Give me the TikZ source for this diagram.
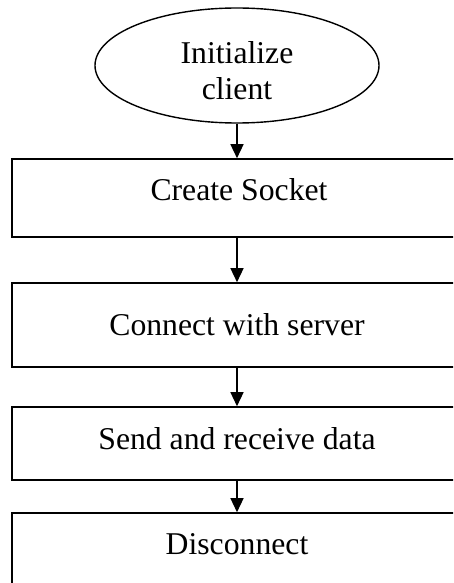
\documentclass[tikz,border=0pt]{standalone}
\usepackage{fontspec}
\setmainfont{Liberation Serif}
\usetikzlibrary{shapes.geometric,arrows.meta}
\begin{document}
\begin{tikzpicture}[x=1pt,y=-1pt,
  box/.style={draw=black,line width=1.6pt,rectangle,inner sep=0pt,minimum width=468pt},
  oval/.style={draw=black,line width=1.4pt,ellipse,inner sep=0pt,minimum width=284pt,minimum height=115pt},
  txt/.style={anchor=base,inner sep=0pt,font=\fontsize{31.7}{36.5}\selectfont},
  arr/.style={line width=1.4pt,-{Triangle[length=14pt,width=13pt]}}]
\useasboundingbox (0,0) rectangle (453,583);
\clip (0,0) rectangle (453,583);
\fill[white] (0,0) rectangle (453,583);
\node[oval] (e) at (237,65.5) {};
\node[txt] (t0a) at (237,64) {Initialize};
\node[txt] (t0b) at (237,100) {client};
\node[box,minimum height=78pt] (b1) at (246,198) {};
\node[txt] (t1) at (239,200.7) {Create Socket};
\node[box,minimum height=84pt] (b2) at (246,325) {};
\node[txt] (t2) at (237,335) {Connect with server};
\node[box,minimum height=73pt] (b3) at (246,443.5) {};
\node[txt] (t3) at (237,449) {Send and receive data};
\node[box,minimum height=87pt] (b4) at (246,556.5) {};
\node[txt] (t4) at (237,554) {Disconnect};
\draw[arr] (e.south) -- (e.south |- b1.north);
\draw[arr] (b1.south -| e.south) -- (b2.north -| e.south);
\draw[arr] (b2.south -| e.south) -- (b3.north -| e.south);
\draw[arr] (b3.south -| e.south) -- (b4.north -| e.south);
\end{tikzpicture}
\end{document}
